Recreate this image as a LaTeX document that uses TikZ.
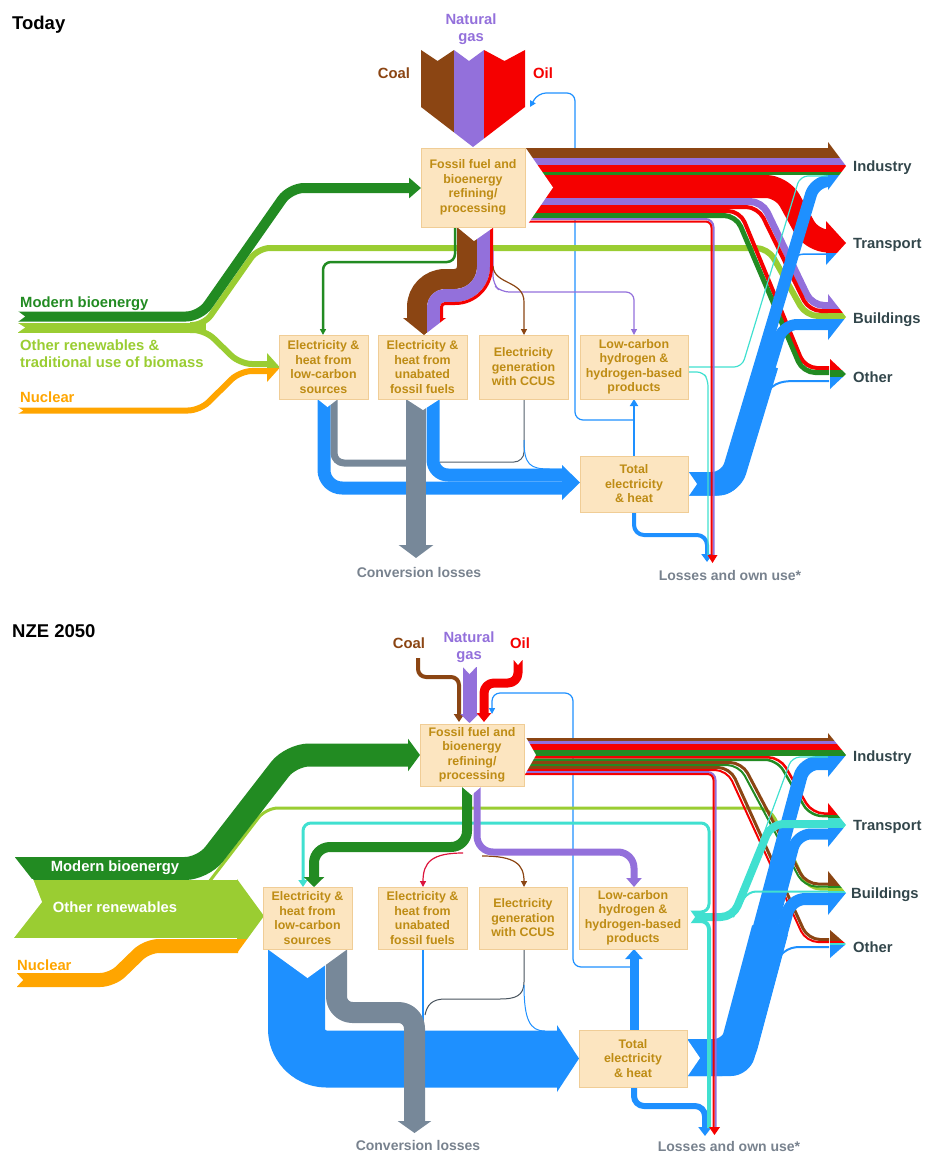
\documentclass[tikz,border=0pt]{standalone}
\usepackage{fontspec}
\setmainfont{Liberation Sans}
\usetikzlibrary{arrows.meta}
\definecolor{cBrown}{RGB}{139,69,19}
\definecolor{cPurple}{RGB}{147,112,219}
\definecolor{cRed}{RGB}{245,0,0}
\definecolor{cDGreen}{RGB}{34,139,34}
\definecolor{cLGreen}{RGB}{154,205,50}
\definecolor{cOrange}{RGB}{255,165,0}
\definecolor{cBlue}{RGB}{30,144,255}
\definecolor{cGrey}{RGB}{119,136,153}
\definecolor{cTurq}{RGB}{64,224,208}
\definecolor{cCrimson}{RGB}{220,20,60}
\definecolor{boxFill}{RGB}{252,229,192}
\definecolor{boxLine}{RGB}{240,205,150}
\definecolor{boxText}{RGB}{190,140,20}
\definecolor{destText}{RGB}{50,70,75}
\definecolor{lossText}{RGB}{120,130,142}
% horizontal colour strip used inside clipped arrow heads
\newcommand\hstripe[3]{\fill[#1] (812,#2) rectangle (852,#3);}
\newcommand\vstripe[3]{\fill[#1] (#2,312) rectangle (#3,340);}

\begin{document}
\begin{tikzpicture}[x=1pt,y=-1pt,
  band/.style={line cap=butt, line join=round},
  tipS/.style={-{Triangle[length=6pt,width=6pt]}},
  proc/.style={draw=boxLine, fill=boxFill, line width=0.9pt, text=boxText, align=center,
    inner sep=0pt, font=\fontsize{12.4}{14.5}\selectfont\bfseries},
  dest/.style={anchor=base west, text=destText, inner sep=0pt, font=\fontsize{14.8}{17}\selectfont\bfseries},
  lab/.style={inner sep=0pt, font=\fontsize{14.8}{17}\selectfont\bfseries},
  ttl/.style={anchor=base west, inner sep=0pt, font=\fontsize{18.5}{22}\selectfont\bfseries},
  loss/.style={text=lossText, inner sep=0pt, font=\fontsize{14}{17}\selectfont\bfseries},
]
\useasboundingbox (0,0) rectangle (927,1153);

%==================== TODAY ====================
\node[ttl] (tday) at (12,29.5) {Today};

% electricity used in refining
\draw[band,cBlue,line width=1.2pt,rounded corners=8pt,tipS] (634,420) -- (575,420) -- (575,93) -- (538,93) -- (530,107);

% other renewables to buildings
\draw[band,cLGreen,line width=6pt,rounded corners=12pt] (190,325) -- (204,325) -- (258,248) -- (768,248) -- (806,316) -- (829,316);

% primary supply from the left
\draw[band,cDGreen,line width=10pt,rounded corners=14pt,-{Triangle[length=12pt,width=20pt]}] (18,316.5) -- (200,316.5) -- (290,188) -- (421,188);
\draw[band,cLGreen,line width=10pt] (18,327.5) -- (206,327.5);
\draw[band,cLGreen,line width=6pt,rounded corners=12pt] (190,330) -- (205,330) -- (240,364) -- (268,364);
\draw[band,cOrange,line width=6pt,rounded corners=12pt] (18,410.5) -- (200,410.5) -- (240,371) -- (268,371);
\begin{scope}
  \clip (267,353) -- (280,367.5) -- (267,382) -- cycle;
  \fill[cLGreen] (260,340) rectangle (285,367.5);
  \fill[cOrange] (260,367.5) rectangle (285,395);
\end{scope}
\fill[white] (17,310.5) -- (25,316.5) -- (17,322.5) -- cycle;
\fill[white] (17,322.5) -- (25,327.5) -- (17,333) -- cycle;
\fill[white] (17,406.5) -- (23,410.5) -- (17,414.5) -- cycle;

% fossil fuels entering refining
\begin{scope}
  \clip (421,50) -- (437.5,61) -- (454,50) -- (469,61) -- (484,50) -- (504.5,61) -- (525,50)
        -- (525,107) -- (473,147) -- (421,107) -- cycle;
  \fill[cBrown] (418,45) rectangle (454,150);
  \fill[cPurple] (454,45) rectangle (484,150);
  \fill[cRed] (484,45) rectangle (528,150);
\end{scope}

% refining outputs to end uses
\draw[band,cBrown,line width=10pt] (525,153) -- (829,153);
\draw[band,cPurple,line width=7pt] (525,161.5) -- (829,161.5);
\draw[band,cRed,line width=7pt] (525,168.5) -- (829,168.5);
\draw[band,cDGreen,line width=3pt] (525,173.5) -- (829,173.5);
\draw[band,cRed,line width=23pt,rounded corners=16pt] (525,186.5) -- (782,186.5) -- (812,241) -- (829,241);
\draw[band,cPurple,line width=7pt,rounded corners=12pt] (525,201.5) -- (762,201.5) -- (812,305.5) -- (829,305.5);
\draw[band,cRed,line width=4pt,rounded corners=12pt] (525,207) -- (758,207) -- (809,311) -- (829,311);
\draw[band,cRed,line width=4pt,rounded corners=12pt] (525,211) -- (740,211) -- (805,368) -- (829,368);
\draw[band,cDGreen,line width=5pt,rounded corners=12pt] (525,215.5) -- (736,215.5) -- (803,372.5) -- (829,372.5);

% refining outputs to power and hydrogen
\draw[band,cDGreen,line width=2.5pt,rounded corners=8pt,tipS] (455,228) -- (455,262) -- (323,262) -- (323,335);
\draw[band,cPurple,line width=1.2pt,rounded corners=8pt,tipS] (493,250) -- (493,284) -- (501,292) -- (634,292) -- (634,335);
\draw[band,cBrown,line width=1.2pt,tipS] (493,266) .. controls (494,285) and (524,280) .. (524,302) -- (524,335);
\draw[band,cBrown,line width=20pt] (467,227) -- (467,267) .. controls (467,273.63) and (461.63,279) .. (455,279)
   -- (445,279) .. controls (429.54,279) and (417,291.54) .. (417,307) -- (417,319);
\draw[band,cPurple,line width=13pt] (483.5,227) -- (483.5,267) .. controls (483.5,282.74) and (470.74,295.5) .. (455,295.5)
   -- (445,295.5) .. controls (438.65,295.5) and (433.5,300.65) .. (433.5,307) -- (433.5,319);
\draw[band,cRed,line width=3pt] (491.5,227) -- (491.5,267) .. controls (491.5,287.16) and (475.16,303.5) .. (455,303.5)
   -- (445,303.5) .. controls (443.07,303.5) and (441.5,305.07) .. (441.5,307) -- (441.5,319);
\begin{scope}
  \clip (403,318) -- (424,335) -- (446,318) -- cycle;
  \vstripe{cBrown}{398}{427}\vstripe{cPurple}{427}{440}\vstripe{cRed}{440}{450}
\end{scope}

% power plant outputs
\draw[band,cBlue,line width=13pt,rounded corners=18pt] (324,399) -- (324,488) -- (563,488);
\draw[band,cBlue,line width=13pt,rounded corners=15pt] (433,399) -- (433,475) -- (563,475);
\fill[cBlue] (562,465) -- (580,482.5) -- (562,500) -- cycle;
\draw[band,cGrey!70!black,line width=1pt,rounded corners=10pt] (524,399) -- (524,462) -- (440,462);
\draw[band,cBlue,line width=1pt] (524,440) .. controls (524,465) and (530,469) .. (550,469) -- (563,469);
\draw[band,cGrey,line width=7pt,rounded corners=10pt] (334,399) -- (334,463) -- (416,463);
\draw[band,cGrey,line width=20pt,-{Triangle[length=13pt,width=34pt]}] (416,399) -- (416,558);

% total electricity and heat
\draw[band,cBlue,line width=2pt,-{Triangle[length=7pt,width=8pt]}] (634,456) -- (634,399);
\draw[band,cBlue,line width=4pt,rounded corners=10pt,-{Triangle[length=8pt,width=11pt]}] (634,512) -- (634,535) -- (707,535) -- (707,562);
\draw[band,cBlue,line width=23pt,rounded corners=14pt] (688,484) -- (731,484) -- (767,365);
\draw[band,cBlue,line width=12pt,rounded corners=14pt] (688,478) -- (726,478) -- (815,181) -- (829,181);
\draw[band,cBlue,line width=11pt,rounded corners=14pt] (688,490) -- (733,490) -- (783,324.5) -- (829,324.5);
\draw[band,cBlue,line width=2pt] (762,402) .. controls (770,383) and (780,381) .. (795,381) -- (829,381);
\draw[band,cBlue,line width=1.5pt] (791,262) .. controls (798,254) .. (812,254) -- (829,254);

% hydrogen outputs
\draw[band,cTurq,line width=1.2pt,rounded corners=8pt] (688,367) -- (742,367) -- (800,176) -- (829,176);
\draw[band,cTurq,line width=1.2pt,rounded corners=6pt] (688,372) -- (703,372) -- (708,380) -- (708,556);

% losses and own use
\draw[band,cPurple,line width=2pt,rounded corners=8pt] (525,219) -- (713.5,219) -- (713.5,556);
\draw[band,cRed,line width=2pt,rounded corners=6pt] (525,221.5) -- (711.5,221.5) -- (711.5,556);
\fill[cRed] (707.5,555) -- (712.5,563) -- (717.5,555) -- cycle;

% notches where flows leave a process
\fill[white] (525,147) -- (553,187.5) -- (525,228) -- cycle;
\fill[white] (457,227) -- (474,241) -- (494,227) -- cycle;
\fill[white] (317.5,399) -- (327.5,407) -- (338,399) -- cycle;
\fill[white] (406,399) -- (423,410) -- (440,399) -- cycle;
\fill[white] (688,471) -- (697,484) -- (688,497) -- cycle;

% end-use arrow heads
\begin{scope}
  \clip (828,142) -- (846,166) -- (828,190) -- cycle;
  \hstripe{cBrown}{130}{158}\hstripe{cPurple}{158}{165}\hstripe{cRed}{165}{172}\hstripe{cDGreen}{172}{175}\hstripe{cBlue}{175}{200}
\end{scope}
\begin{scope}
  \clip (826,221) -- (846,243) -- (826,265) -- cycle;
  \hstripe{cRed}{200}{253}\hstripe{cBlue}{253}{280}
\end{scope}
\begin{scope}
  \clip (828,294) -- (846,317) -- (828,340) -- cycle;
  \hstripe{cPurple}{280}{309}\hstripe{cRed}{309}{313}\hstripe{cLGreen}{313}{319}\hstripe{cBlue}{319}{350}
\end{scope}
\begin{scope}
  \clip (830,359) -- (846,374) -- (830,389) -- cycle;
  \hstripe{cRed}{350}{370}\hstripe{cDGreen}{370}{377}\hstripe{cBlue}{377}{400}
\end{scope}

% processes
\node[proc, minimum width=104pt, minimum height=79pt] (fos1) at (473,187.5) {Fossil fuel and\\bioenergy\\refining/\\processing};
\node[proc, minimum width=89pt, minimum height=64pt] (lc1) at (323.5,367) {Electricity \&\\heat from\\low-carbon\\sources};
\node[proc, minimum width=89pt, minimum height=64pt] (ub1) at (422.5,367) {Electricity \&\\heat from\\unabated\\fossil fuels};
\node[proc, minimum width=89pt, minimum height=64pt] (cc1) at (523.5,367) {Electricity\\generation\\with CCUS};
\node[proc, minimum width=108pt, minimum height=64pt] (hy1) at (634,367) {Low-carbon\\hydrogen \&\\hydrogen-based\\products};
\node[proc, minimum width=108pt, minimum height=56pt] (te1) at (634,484) {Total\\electricity\\\& heat};

% labels
\node[lab,text=cBrown,anchor=base] (coal1) at (394,78.5) {Coal};
\node[lab,text=cPurple,align=center] (gas1) at (471,29) {Natural\\gas};
\node[lab,text=cRed,anchor=base] (oil1) at (543,78.5) {Oil};
\node[lab,text=cDGreen,anchor=base west] (mb1) at (20,307.5) {Modern bioenergy};
\node[lab,text=cLGreen,align=left,anchor=west] (or1) at (20,353.5) {Other renewables \&\\traditional use of biomass};
\node[lab,text=cOrange,anchor=base west] (nu1) at (20,402.5) {Nuclear};
\node[dest] (ind1) at (853,171.5) {Industry};
\node[dest] (tra1) at (853,248.5) {Transport};
\node[dest] (bld1) at (853,323.5) {Buildings};
\node[dest] (oth1) at (853,382.5) {Other};
\node[loss] (cl1) at (419,572) {Conversion losses};
\node[loss] (lo1) at (730,575) {Losses and own use*};

%==================== NZE 2050 ====================
\node[ttl] (tnze) at (12,637) {NZE 2050};

% electricity used in refining
\draw[band,cBlue,line width=1.2pt,rounded corners=8pt,tipS] (630,967) -- (573,967) -- (573,693) -- (492,693) -- (492,714);
% hydrogen to low-carbon power
\draw[band,cTurq,line width=3pt,rounded corners=8pt,-{Triangle[length=7pt,width=9pt]}] (688,912) -- (709,912) -- (709,823) -- (303,823) -- (303,887);
% other renewables to buildings
\draw[band,cLGreen,line width=3pt,rounded corners=12pt] (209,882) -- (266,808) -- (770,808) -- (808,889) -- (829,889);

% primary supply from the left
\draw[band,cDGreen,line width=23pt,rounded corners=18pt,-{Triangle[length=12pt,width=32pt]}] (13,868.5) -- (203,868.5) -- (291,755) -- (420,755);
\fill[white] (8,855) -- (13,855) -- (33,880.5) -- (8,880.5) -- cycle;
\draw[band,cLGreen,line width=58pt] (13,909) -- (238,909);
\fill[white] (8,879) -- (33,879) -- (42,902) -- (13,939) -- (8,939) -- cycle;
\draw[band,cOrange,line width=14pt,rounded corners=12pt] (17,980) -- (112,980) -- (147,946) -- (238,946);
\fill[white] (16,972.5) -- (23,980) -- (16,987.5) -- cycle;
\begin{scope}
  \clip (237,879) -- (264,916) -- (237,953) -- cycle;
  \fill[cLGreen] (230,870) rectangle (270,938.5);
  \fill[cOrange] (230,938.5) rectangle (270,960);
\end{scope}

% fossil fuels entering refining
\draw[band,cBrown,line width=4pt,rounded corners=8pt,-{Triangle[length=8pt,width=10pt]}] (418,658) -- (418,677) -- (459,677) -- (459,722);
\draw[band,cPurple,line width=14pt,-{Triangle[length=9pt,width=18pt]}] (469.5,667) -- (469.5,723);
\fill[white] (462,666) -- (469.5,674) -- (477,666) -- cycle;
\draw[band,cRed,line width=9pt,rounded corners=10pt,-{Triangle[length=9pt,width=14pt]}] (518,660) -- (518,683) -- (484,683) -- (484,722);
\fill[white] (513,659) -- (518,665) -- (523,659) -- cycle;

% refining outputs to end uses
\draw[band,cBrown,line width=2.5pt] (524,739.25) -- (829,739.25);
\draw[band,cPurple,line width=3.5pt] (524,742.25) -- (829,742.25);
\draw[band,cRed,line width=6pt] (524,747) -- (829,747);
\draw[band,cDGreen,line width=6pt] (524,753) -- (829,753);
\draw[band,cRed,line width=2.5pt,rounded corners=12pt] (524,757.25) -- (780,757.25) -- (812,813.5) -- (829,813.5);
\draw[band,cDGreen,line width=2.5pt,rounded corners=12pt] (524,759.75) -- (777,759.75) -- (810,816) -- (829,816);
\draw[band,cBrown,line width=3pt,rounded corners=12pt] (524,762.5) -- (742,762.5) -- (806,884) -- (829,884);
\draw[band,cDGreen,line width=2pt,rounded corners=12pt] (524,765) -- (739,765) -- (804,886.5) -- (829,886.5);
\draw[band,cBrown,line width=3pt,rounded corners=12pt] (524,767.5) -- (730,767.5) -- (808,939.5) -- (829,939.5);
\draw[band,cRed,line width=2pt,rounded corners=12pt] (524,770) -- (727,770) -- (806,942) -- (829,942);

% refining outputs to power and hydrogen
\draw[band,cCrimson,line width=1.2pt,tipS] (463,853) .. controls (432,853) and (423,862) .. (423,887);
\draw[band,cBrown,line width=1.2pt,tipS] (482,856) .. controls (515,856) and (524,864) .. (524,887);
\draw[band,cDGreen,line width=10pt,rounded corners=16pt,-{Triangle[length=10pt,width=20pt]}] (467,786) -- (467,847) -- (314,847) -- (314,887);
\draw[band,cPurple,line width=7pt,rounded corners=16pt,-{Triangle[length=9pt,width=15pt]}] (477,786) -- (477,852) -- (634,852) -- (634,887);

% power plant outputs
\draw[band,cBlue,line width=57pt,rounded corners=30pt] (296.5,949) -- (296.5,1059) -- (558,1059);
\fill[cBlue] (557,1025) -- (579,1058.5) -- (557,1092) -- cycle;
\draw[band,cBlue,line width=2pt] (423,949) -- (423,1031);
\draw[band,cGrey!60!black,line width=1pt] (524,949) -- (524,982) .. controls (524,996) and (515,999) .. (500,999)
   -- (445,999) .. controls (432,999) and (427,1005) .. (425,1015);
\draw[band,cBlue,line width=1pt] (524,985) .. controls (524,1020) and (530,1031) .. (545,1031);
\draw[band,cGrey,line width=21pt,rounded corners=16pt,-{Triangle[length=12pt,width=33pt]}] (336.5,949) -- (336.5,1012.5) -- (414.5,1012.5) -- (414.5,1133);

% total electricity and heat
\draw[band,cBlue,line width=9pt,-{Triangle[length=10pt,width=17pt]}] (634,1030) -- (634,949);
\draw[band,cBlue,line width=6pt,rounded corners=10pt,-{Triangle[length=9pt,width=13pt]}] (634,1087) -- (634,1106) -- (705,1106) -- (705,1136);
\draw[band,cBlue,line width=37pt,rounded corners=14pt] (687,1057.5) -- (736,1057.5) -- (770,930);
\draw[band,cBlue,line width=14pt,rounded corners=14pt] (687,1046) -- (728,1046) -- (804,763) -- (829,763);
\draw[band,cBlue,line width=11pt,rounded corners=14pt] (687,1058) -- (737,1058) -- (797,834) -- (829,834);
\draw[band,cBlue,line width=12pt,rounded corners=14pt] (687,1070) -- (745,1070) -- (791,899) -- (829,899);
\draw[band,cBlue,line width=2pt] (771,975) .. controls (778,952) and (788,947) .. (800,947) -- (829,947);

% hydrogen outputs
\draw[band,cTurq,line width=8pt,rounded corners=12pt] (687,917) -- (733,917) -- (771,824) -- (829,824);
\draw[band,cTurq,line width=1.2pt,rounded corners=8pt] (733,917) -- (792,757) -- (829,757);
\draw[band,cTurq,line width=2pt,rounded corners=8pt] (733,917) -- (748,891.5) -- (829,891.5);
\draw[band,cTurq,line width=4pt,rounded corners=8pt] (687,921) -- (709,921) -- (709,1128);

% losses and own use
\draw[band,cPurple,line width=2pt,rounded corners=8pt] (524,772) -- (715.5,772) -- (715.5,1128);
\draw[band,cRed,line width=2pt,rounded corners=6pt] (524,774) -- (713.5,774) -- (713.5,1128);
\fill[cRed] (709,1127) -- (714.5,1135) -- (720,1127) -- cycle;

% notches where flows leave a process
\fill[white] (524,734) -- (536,755) -- (524,776) -- cycle;
\fill[white] (461,786) -- (471.5,795) -- (482,786) -- cycle;
\fill[white] (267.5,949) -- (307.5,978) -- (347.5,949) -- cycle;
\fill[white] (687,1039) -- (700,1058) -- (687,1077) -- cycle;
\fill[white] (687,906) -- (695,917) -- (687,928) -- cycle;

% end-use arrow heads
\begin{scope}
  \clip (828,733) -- (846,755) -- (828,777) -- cycle;
  \hstripe{cBrown}{720}{740.5}\hstripe{cPurple}{740.5}{744}\hstripe{cRed}{744}{750}\hstripe{cDGreen}{750}{756}\hstripe{cBlue}{756}{790}
\end{scope}
\begin{scope}
  \clip (828,803) -- (846,825) -- (828,847) -- cycle;
  \hstripe{cRed}{790}{815}\hstripe{cDGreen}{815}{818}\hstripe{cTurq}{818}{828}\hstripe{cBlue}{828}{860}
\end{scope}
\begin{scope}
  \clip (828,871) -- (846,893) -- (828,915) -- cycle;
  \hstripe{cBrown}{860}{885.5}\hstripe{cDGreen}{885.5}{887.5}\hstripe{cLGreen}{887.5}{890.5}\hstripe{cTurq}{890.5}{892.5}\hstripe{cBlue}{892.5}{930}
\end{scope}
\begin{scope}
  \clip (830,930) -- (846,944) -- (830,958) -- cycle;
  \hstripe{cBrown}{920}{941}\hstripe{cRed}{941}{943}\hstripe{cTurq}{943}{945}\hstripe{cBlue}{945}{970}
\end{scope}

% processes
\node[proc, minimum width=104pt, minimum height=62pt] (fos2) at (472,755) {Fossil fuel and\\bioenergy\\refining/\\processing};
\node[proc, minimum width=89pt, minimum height=62pt] (lc2) at (307.5,918) {Electricity \&\\heat from\\low-carbon\\sources};
\node[proc, minimum width=89pt, minimum height=62pt] (ub2) at (422.5,918) {Electricity \&\\heat from\\unabated\\fossil fuels};
\node[proc, minimum width=88pt, minimum height=62pt] (cc2) at (523,918) {Electricity\\generation\\with CCUS};
\node[proc, minimum width=108pt, minimum height=62pt] (hy2) at (633,918) {Low-carbon\\hydrogen \&\\hydrogen-based\\products};
\node[proc, minimum width=108pt, minimum height=57pt] (te2) at (633,1058.5) {Total\\electricity\\\& heat};

% labels
\node[lab,text=cBrown,anchor=base] (coal2) at (409,648.5) {Coal};
\node[lab,text=cPurple,align=center] (gas2) at (469,647.5) {Natural\\gas};
\node[lab,text=cRed,anchor=base] (oil2) at (520,648.5) {Oil};
\node[lab,text=white] (mb2) at (115,868) {Modern bioenergy};
\node[lab,text=white] (or2) at (115,907) {Other renewables};
\node[lab,text=cOrange,anchor=base west] (nu2) at (17,970) {Nuclear};
\node[dest] (ind2) at (853,761.5) {Industry};
\node[dest] (tra2) at (853,830.5) {Transport};
\node[dest] (bld2) at (851,898.5) {Buildings};
\node[dest] (oth2) at (853,952.5) {Other};
\node[loss] (cl2) at (418,1145) {Conversion losses};
\node[loss] (lo2) at (729,1146) {Losses and own use*};
\end{tikzpicture}
\end{document}
